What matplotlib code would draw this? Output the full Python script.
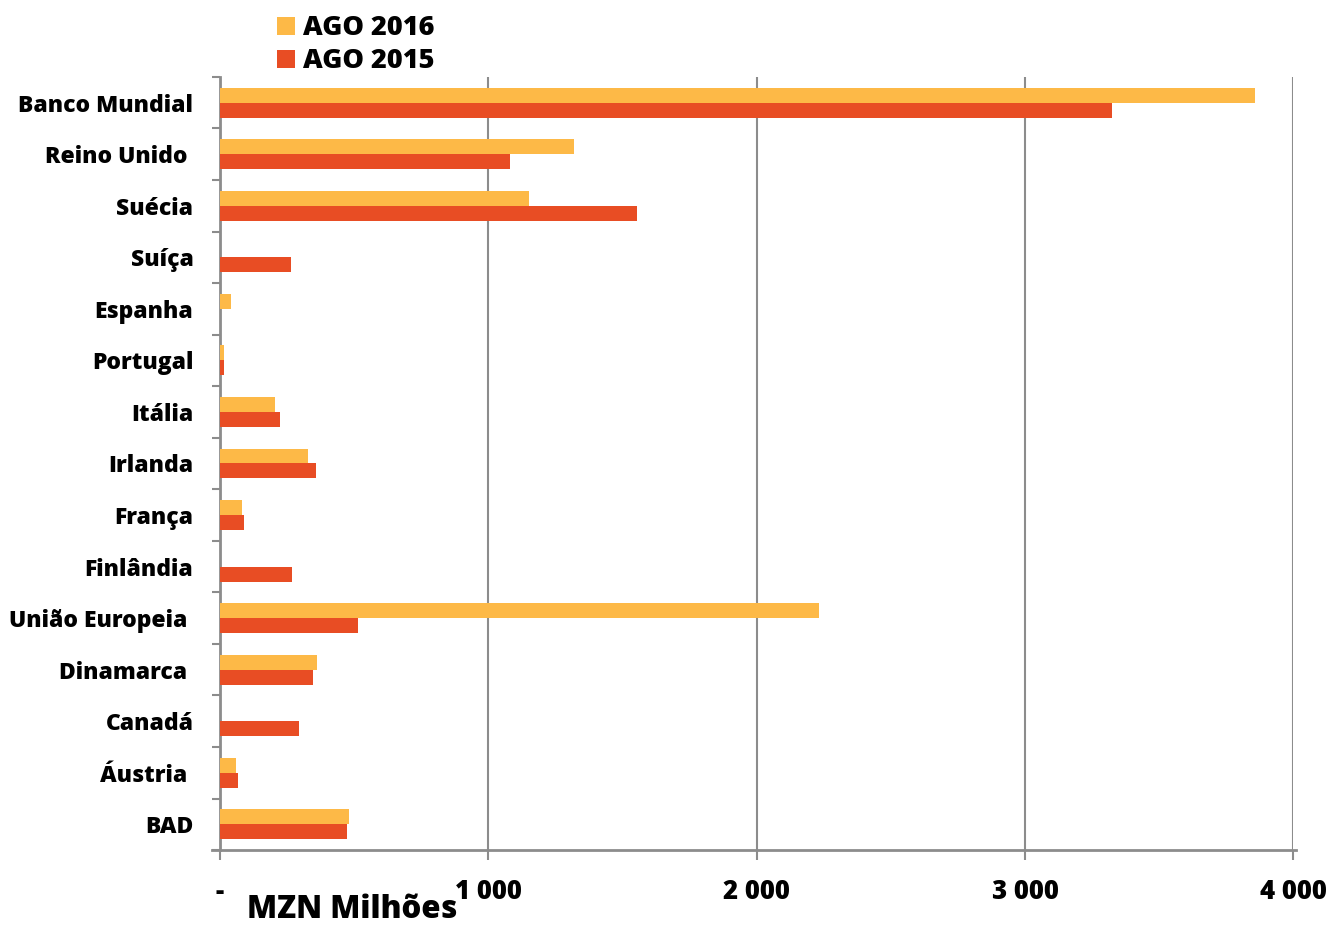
import matplotlib
matplotlib.use('Agg')
import matplotlib.pyplot as plt
import numpy as np

plt.rcParams['font.family'] = ['Open Sans', 'DejaVu Sans']
plt.rcParams['font.weight'] = 'bold'

# Data (MZN Milhões)
countries = ['Banco Mundial', 'Reino Unido ', 'Suécia', 'Suíça', 'Espanha', 'Portugal',
             'Itália', 'Irlanda', 'França', 'Finlândia', 'União Europeia ', 'Dinamarca ',
             'Canadá', 'Áustria ', 'BAD']
ago_2016 = [3858, 1320, 1152, 0, 41, 15, 205, 328, 82, 0, 2233, 362, 0, 60, 481]
ago_2015 = [3325, 1081, 1555, 265, 0, 15, 224, 358, 89, 268, 514, 347, 295, 67, 473]
xticks = [0, 1000, 2000, 3000, 4000]
xtick_labels = ['-', '1 000', '2 000', '3 000', '4 000']

c2016 = '#FDB947'
c2015 = '#E84D24'
grey = '#8C8C8C'
wt = 800

fig = plt.figure(figsize=(13.32, 9.26), dpi=100)
ax = fig.add_axes([0.165, 0.082, 0.806, 0.835])

y = np.arange(len(countries))
h = 0.29
ax.barh(y - h / 2, ago_2016, height=h, color=c2016, label='AGO 2016', zorder=3)
ax.barh(y + h / 2, ago_2015, height=h, color=c2015, label='AGO 2015', zorder=3)

ax.set_ylim(len(countries) - 0.5, -0.5)
ax.set_xlim(0, 4000)

# category labels, with tick marks between categories
ax.set_yticks(y)
ax.set_yticklabels(countries, fontsize=16.5, fontweight=wt)
ax.tick_params(axis='y', length=0, pad=19)
ax.set_yticks(np.arange(-0.5, len(countries)), minor=True)
ax.tick_params(axis='y', which='minor', length=6, width=1.5, color=grey, direction='out')

ax.set_xticks(xticks)
ax.set_xticklabels(xtick_labels, fontsize=18.5, fontweight=wt)
ax.tick_params(axis='x', length=7, width=1.5, color=grey, pad=14)
ax.xaxis.grid(True, color=grey, linewidth=1.5, zorder=0)

for s in ['top', 'right']:
    ax.spines[s].set_visible(False)
for s in ['left', 'bottom']:
    ax.spines[s].set_color(grey)
    ax.spines[s].set_linewidth(2)
ax.spines['bottom'].set_bounds(-30, 4010)

ax.text(0.025, -0.078, 'MZN Milhões', transform=ax.transAxes, fontsize=22.5,
        fontweight=wt, ha='left', va='center')

leg = fig.legend(loc='upper left', bbox_to_anchor=(0.19, 1.01), frameon=False,
                 prop={'size': 19.5, 'weight': wt}, handlelength=0.65, handleheight=0.65,
                 handletextpad=0.3, labelspacing=0.27)

plt.savefig('out.png', dpi=100)
